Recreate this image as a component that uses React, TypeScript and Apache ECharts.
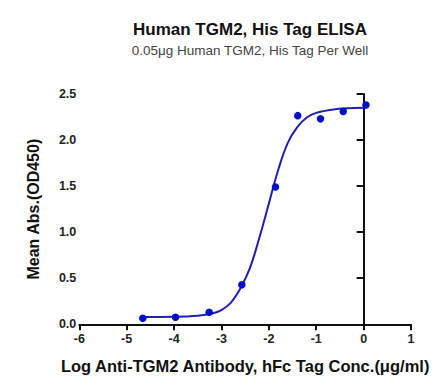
import React, { useEffect, useRef } from "react";
import * as echarts from "echarts";

const titleText = "Human TGM2, His Tag ELISA";
const subtitleText = "0.05μg Human TGM2, His Tag Per Well";
const xAxisName = "Log Anti-TGM2 Antibody, hFc Tag Conc.(μg/ml)";
const yAxisName = "Mean Abs.(OD450)";

// measured points (log concentration, OD450)
const pointX = [-4.66, -3.97, -3.26, -2.57, -1.86, -1.39, -0.91, -0.43, 0.05];
const pointY = [0.065, 0.076, 0.13, 0.43, 1.49, 2.265, 2.23, 2.31, 2.38];

// fitted curve
const curveX = [-4.66, -4.0, -3.5, -3.2, -3.0, -2.8, -2.6, -2.4, -2.2, -2.0, -1.8, -1.6, -1.4, -1.2, -1.0, -0.6, -0.2, 0.05];
const curveY = [0.08, 0.082, 0.093, 0.117, 0.155, 0.235, 0.39, 0.61, 0.94, 1.31, 1.68, 1.97, 2.14, 2.245, 2.295, 2.335, 2.347, 2.35];

const xTicks = [-6, 1];
const yTicks = [0, 2.5];

export default function App() {
  const ref = useRef<HTMLDivElement>(null);
  useEffect(() => {
    if (!ref.current) return;
    const chart = echarts.init(ref.current, null, { renderer: "svg" });
    const font = "Liberation Sans, Arial, sans-serif";
    chart.setOption({
      animation: false,
      backgroundColor: "#ffffff",
      title: {
        text: titleText,
        subtext: subtitleText,
        left: 245,
        textAlign: "center",
        top: 16,
        itemGap: 5,
        textStyle: { fontFamily: font, fontSize: 17, fontWeight: "bold", color: "#111" },
        subtextStyle: { fontFamily: font, fontSize: 13.5, color: "#444" },
      },
      grid: { left: 79.3, right: 28, top: 94, bottom: 60.7 },
      xAxis: {
        type: "value",
        min: xTicks[0],
        max: xTicks[1],
        interval: 1,
        name: xAxisName,
        nameLocation: "middle",
        nameGap: 33,
        nameTextStyle: { fontFamily: font, fontSize: 16.5, fontWeight: "bold", color: "#111" },
        axisLine: { show: true, lineStyle: { color: "#111", width: 2 } },
        axisTick: { show: true, length: 6, lineStyle: { color: "#111", width: 2 } },
        axisLabel: { fontFamily: font, fontSize: 12.5, fontWeight: "bold", color: "#222", margin: 8 },
        splitLine: { show: false },
      },
      yAxis: {
        type: "value",
        min: yTicks[0],
        max: yTicks[1],
        interval: 0.5,
        name: yAxisName,
        nameLocation: "middle",
        nameGap: 38,
        nameTextStyle: { fontFamily: font, fontSize: 16, fontWeight: "bold", color: "#111" },
        axisLine: { show: true, lineStyle: { color: "#111", width: 2 } },
        axisTick: { show: true, length: 7, lineStyle: { color: "#111", width: 2 } },
        axisLabel: {
          fontFamily: font,
          fontSize: 12.5,
          fontWeight: "bold",
          color: "#222",
          margin: 3,
          formatter: (v: number) => v.toFixed(1),
        },
        splitLine: { show: false },
      },
      series: [
        {
          type: "line",
          data: curveX.map((x, i) => [x, curveY[i]]),
          smooth: 0.4,
          showSymbol: false,
          symbol: "none",
          lineStyle: { color: "#2020b0", width: 2 },
          z: 2,
        },
        {
          type: "scatter",
          data: pointX.map((x, i) => [x, pointY[i]]),
          symbol: "circle",
          symbolSize: 7.5,
          itemStyle: { color: "#0010c8", opacity: 1 },
          z: 3,
        },
      ],
    });
    return () => chart.dispose();
  }, []);
  return (
    <div
      ref={ref}
      style={{ position: "fixed", left: 0, top: 0, width: 439, height: 385, background: "#fff" }}
    />
  );
}
